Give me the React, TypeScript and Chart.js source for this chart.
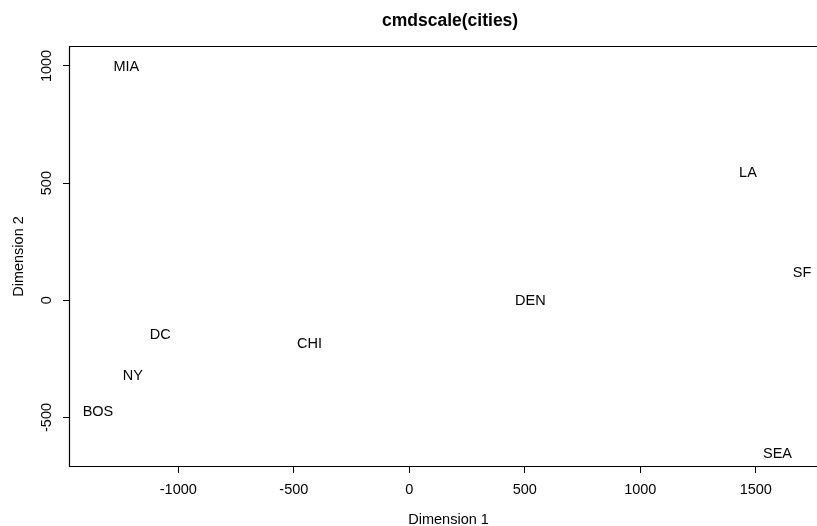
import React, { useEffect, useRef } from "react";
import { Chart, registerables } from "chart.js";

Chart.register(...registerables);

const titleText = "cmdscale(cities)";
const xAxisLabel = "Dimension 1";
const yAxisLabel = "Dimension 2";

const cities = ["BOS", "NY", "DC", "MIA", "CHI", "SEA", "SF", "LA", "DEN"];
const dimension1 = [-1348, -1197, -1078, -1225, -432, 1594, 1700, 1466, 524];
const dimension2 = [-471, -316, -143, 1000, -182, -652, 122, 548, 1];

const xTickValues = [-1000, -500, 0, 500, 1000, 1500];
const yTickValues = [-500, 0, 500, 1000];

// R's plotting region extends past the right edge of the picture
const xRangeMin = -1469;
const xRangeMaxFull = 1822;

const FONT = "'Liberation Sans', Arial, Helvetica, sans-serif";

const cityLabelPlugin = {
  id: "cityLabels",
  afterDatasetsDraw(chart: any) {
    const ctx = chart.ctx;
    const xs = chart.scales.x;
    const ys = chart.scales.y;
    ctx.save();
    ctx.font = `14.5px ${FONT}`;
    ctx.fillStyle = "#000";
    ctx.textAlign = "center";
    ctx.textBaseline = "alphabetic";
    cities.forEach((c, i) => {
      ctx.fillText(c, xs.getPixelForValue(dimension1[i]), ys.getPixelForValue(dimension2[i]) + 5.2);
    });
    ctx.restore();
  },
};

const textPlugin = {
  id: "titles",
  afterDraw(chart: any) {
    const ctx = chart.ctx;
    const xs = chart.scales.x;
    const cx = xs.getPixelForValue((xRangeMin + xRangeMaxFull) / 2);
    ctx.save();
    ctx.fillStyle = "#000";
    ctx.textAlign = "center";
    ctx.textBaseline = "middle";
    ctx.font = `bold 17.5px ${FONT}`;
    ctx.fillText(titleText, cx, 21);
    ctx.font = `14.5px ${FONT}`;
    ctx.textBaseline = "alphabetic";
    ctx.fillText(xAxisLabel, cx - 1.5, chart.chartArea.bottom + 57.5);
    ctx.restore();
  },
};

const boxPlugin = {
  id: "plotBox",
  afterDraw(chart: any) {
    const { left, top, bottom } = chart.chartArea;
    const ctx = chart.ctx;
    const l = Math.round(left) - 0.5;
    const t = Math.round(top) - 0.5;
    const b = Math.round(bottom) + 0.5;
    const r = chart.width + 2;
    ctx.save();
    ctx.strokeStyle = "#000";
    ctx.lineWidth = 1.2;
    ctx.beginPath();
    ctx.moveTo(r, t);
    ctx.lineTo(l, t);
    ctx.lineTo(l, b);
    ctx.lineTo(r, b);
    ctx.stroke();
    ctx.restore();
  },
};

export default function App() {
  const canvasRef = useRef<HTMLCanvasElement | null>(null);

  useEffect(() => {
    if (!canvasRef.current) return;
    const chart = new Chart(canvasRef.current, {
      type: "scatter",
      data: {
        datasets: [
          {
            label: "cities",
            data: cities.map((_, i) => ({ x: dimension1[i], y: dimension2[i] })),
            pointRadius: 0,
            pointHoverRadius: 0,
            showLine: false,
          },
        ],
      },
      options: {
        animation: false,
        responsive: false,
        devicePixelRatio: 1,
        events: [],
        layout: { padding: { top: 47, left: 0, right: 0, bottom: 0 } },
        plugins: {
          legend: { display: false },
          tooltip: { enabled: false },
          title: { display: false },
        },
        scales: {
          x: {
            type: "linear",
            min: xRangeMin,
            max: 1765,
            afterBuildTicks: (scale: any) => {
              scale.ticks = xTickValues.map((v) => ({ value: v }));
            },
            afterFit: (scale: any) => {
              scale.height = 60;
              scale.paddingLeft = 0;
              scale.paddingRight = 0;
            },
            border: { display: false },
            grid: {
              drawOnChartArea: false,
              drawTicks: true,
              tickLength: 7,
              color: "#000",
              tickColor: "#000",
              lineWidth: 1,
            },
            ticks: {
              color: "#000",
              font: { family: FONT, size: 14.5 },
              padding: 8,
              maxRotation: 0,
              minRotation: 0,
              callback: (v: any) => String(v),
            },
            title: { display: false },
          },
          y: {
            type: "linear",
            min: -707,
            max: 1081,
            afterBuildTicks: (scale: any) => {
              scale.ticks = yTickValues.map((v) => ({ value: v }));
            },
            afterFit: (scale: any) => {
              scale.width = 70;
            },
            border: { display: false },
            grid: {
              drawOnChartArea: false,
              drawTicks: true,
              tickLength: 7,
              color: "#000",
              tickColor: "#000",
              lineWidth: 1,
            },
            ticks: {
              color: "#000",
              font: { family: FONT, size: 14.5 },
              padding: 0,
              crossAlign: "center",
              minRotation: 90,
              maxRotation: 90,
              callback: (v: any) => String(v),
            },
            title: {
              display: true,
              text: yAxisLabel,
              color: "#000",
              font: { family: FONT, size: 14.5 },
              padding: { top: 10, bottom: 0 },
            },
          },
        },
      },
      plugins: [cityLabelPlugin, boxPlugin, textPlugin],
    });
    return () => chart.destroy();
  }, []);

  return (
    <div style={{ position: "fixed", left: 0, top: 0, width: 817, height: 526, background: "#fff" }}>
      <canvas ref={canvasRef} width={817} height={526} style={{ display: "block" }} />
    </div>
  );
}
